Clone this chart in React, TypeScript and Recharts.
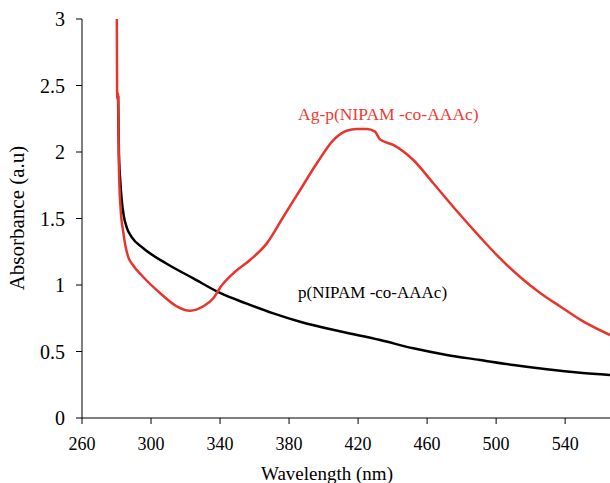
import * as React from 'react'
import { Line, LineChart, XAxis, YAxis } from 'recharts'

// wavelength (nm) / absorbance pairs
const polymerWavelength = [
  280.9, 281.4, 282.2, 283, 284.2, 286, 288.8, 295.5, 309.1, 324.5, 340, 355.5, 370.9, 386.4, 410,
  432.8, 452, 471.4, 490.7, 510, 529.4, 548.7, 566,
]
const polymerAbs = [
  2.42, 1.99, 1.78, 1.64, 1.52, 1.43, 1.36, 1.276, 1.16, 1.05, 0.94, 0.86, 0.787, 0.724, 0.65,
  0.586, 0.524, 0.474, 0.436, 0.398, 0.366, 0.34, 0.323,
]

const silverWavelength = [
  280.2, 280.4, 280.9, 281.4, 282.3, 284, 286.8, 289, 295.5, 305.2, 314.9, 322.6, 330.3, 336.1,
  340, 347.7, 357.4, 367.1, 376.7, 386.4, 396.1, 405.7, 413.4, 419.2, 425, 429.8, 432.7, 440.4,
  452, 463.6, 479, 490.7, 502.3, 513.9, 525.5, 537, 548.7, 566,
]
const silverAbs = [
  3.0, 2.4, 2.44, 1.89, 1.59, 1.39, 1.21, 1.16, 1.06, 0.94, 0.84, 0.807, 0.84, 0.9, 0.98,
  1.088, 1.188, 1.313, 1.513, 1.714, 1.915, 2.09, 2.16, 2.173, 2.173, 2.153, 2.095, 2.053, 1.94,
  1.765, 1.53, 1.36, 1.2, 1.06, 0.94, 0.84, 0.74, 0.624,
]

const xTicks = [260, 300, 340, 380, 420, 460, 500, 540]
const yTicks = [0, 0.5, 1, 1.5, 2, 2.5, 3]

const polymerData = polymerWavelength.map((x, i) => ({ x, y: polymerAbs[i] }))
const silverData = silverWavelength.map((x, i) => ({ x, y: silverAbs[i] }))

const FONT = "'Liberation Serif', 'DejaVu Serif', serif"
const RED = '#e8352b'

export default function App() {
  return (
    <div
      style={{
        position: 'absolute',
        left: 0,
        top: 0,
        width: 610,
        height: 483,
        background: '#fff',
        fontFamily: FONT,
      }}
    >
      <LineChart width={610} height={483} margin={{ top: 19, right: 0, bottom: 0, left: 0 }}>
        <XAxis
          type="number"
          dataKey="x"
          domain={[260, 566]}
          ticks={xTicks}
          allowDataOverflow
          height={65}
          tickSize={6}
          tickMargin={13}
          stroke="#000"
          tick={{ fill: '#000', fontSize: 18, fontFamily: FONT }}
        />
        <YAxis
          type="number"
          dataKey="y"
          domain={[0, 3]}
          ticks={yTicks}
          allowDataOverflow
          width={82}
          tickSize={6}
          tickMargin={11}
          stroke="#000"
          tick={{ fill: '#000', fontSize: 20, fontFamily: FONT }}
        />
        <Line
          data={polymerData}
          dataKey="y"
          type="monotone"
          stroke="#000"
          strokeWidth={2.5}
          dot={false}
          isAnimationActive={false}
        />
        <Line
          data={silverData}
          dataKey="y"
          type="monotone"
          stroke={RED}
          strokeWidth={2.5}
          dot={false}
          isAnimationActive={false}
        />
      </LineChart>
      <svg
        width={610}
        height={483}
        style={{ position: 'absolute', left: 0, top: 0, pointerEvents: 'none', fontFamily: FONT }}
      >
        <text x={298} y={120} fontSize={17.5} fill="#ee3b34">
          Ag-p(NIPAM -co-AAAc)
        </text>
        <text x={298} y={298} fontSize={17} fill="#000">
          p(NIPAM -co-AAAc)
        </text>
        <text x={327} y={480} fontSize={19} textAnchor="middle" fill="#000">
          Wavelength (nm)
        </text>
        <text x={24} y={218} fontSize={21} textAnchor="middle" fill="#000" transform="rotate(-90, 24, 218)">
          Absorbance (a.u)
        </text>
      </svg>
    </div>
  )
}
